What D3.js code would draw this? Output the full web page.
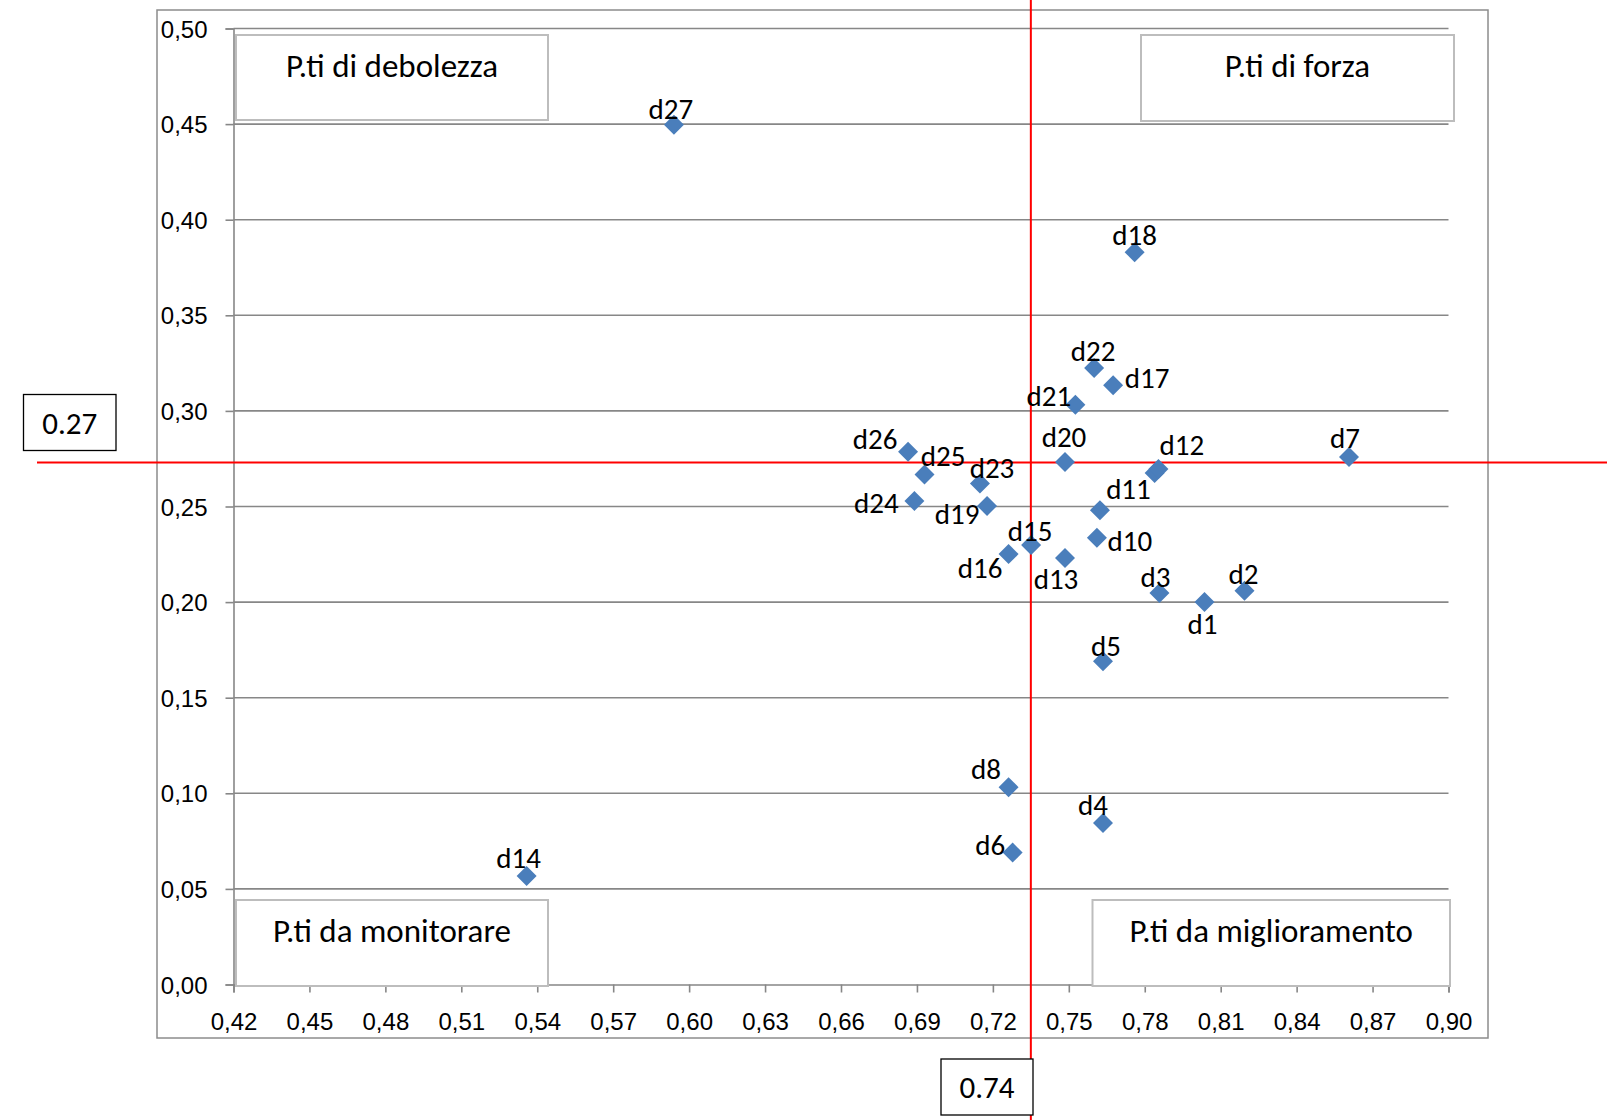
<!DOCTYPE html>
<html>
<head>
<meta charset="utf-8">
<script src="https://cdn.jsdelivr.net/npm/d3@7"></script>
<style>
  body { margin: 0; background: #fff; }
  svg { display: block; font-family: Calibri, Carlito, Lato, sans-serif; }
</style>
</head>
<body>
<svg id="chart" width="1607" height="1120"></svg>
<script>
// Data
const names = ["d1","d2","d3","d4","d5","d6","d7","d8","d9","d10","d11","d12","d13","d14",
               "d15","d16","d17","d18","d19","d20","d21","d22","d23","d24","d25","d26","d27"];
const xValues = [0.8036, 0.8194, 0.7858, 0.7635, 0.7635, 0.7278, 0.8607, 0.7262, 0.7839, 0.7611,
                 0.7623, 0.7854, 0.7485, 0.5358, 0.7351, 0.7262, 0.7675, 0.7760, 0.7177, 0.7485,
                 0.7526, 0.7600, 0.7149, 0.6890, 0.6930, 0.6865, 0.5940];
const yValues = [0.2000, 0.2059, 0.2048, 0.0845, 0.1690, 0.0690, 0.2759, 0.1032, 0.2675, 0.2337,
                 0.2481, 0.2696, 0.2230, 0.0567, 0.2299, 0.2251, 0.3134, 0.3830, 0.2503, 0.2733,
                 0.3032, 0.3225, 0.2620, 0.2529, 0.2668, 0.2786, 0.4497];
const xTicks = [0.42,0.45,0.48,0.51,0.54,0.57,0.60,0.63,0.66,0.69,0.72,0.75,0.78,0.81,0.84,0.87,0.90];
const yTicks = [0,0.05,0.10,0.15,0.20,0.25,0.30,0.35,0.40,0.45,0.50];
const quadrantLabels = ["P.ti di debolezza", "P.ti di forza", "P.ti da monitorare", "P.ti da miglioramento"];
const refX = 0.735, refY = 0.273;
const refXLabel = "0.74", refYLabel = "0.27";

// label placement relative to its marker (px); d9 label is hidden under d12
const labelOffset = {
  d1: [-2, 21.5], d2: [-1, -17.5], d3: [-4, -16.5], d4: [-10, -18.5], d5: [3, -16.5],
  d6: [-22.5, -8], d7: [-4, -19.5], d8: [-22.5, -18.5], d10: [33, 3], d11: [28.5, -21.5],
  d12: [23.5, -24.5], d13: [-9, 20.5], d14: [-8, -18.5], d15: [-1, -14.5], d16: [-28.5, 13.5],
  d17: [34, -8], d18: [0, -17.5], d19: [-30, 7], d20: [-1, -25.5], d21: [-26.5, -10],
  d22: [-1, -17.5], d23: [12, -16.5], d24: [-38, 1], d25: [18.5, -19.5], d26: [-33, -13.5],
  d27: [-3, -16.5]
};

const points = names.map((n, i) => ({name: n, x: xValues[i], y: yValues[i]}));

const svg = d3.select("#chart");
const W = 1607, H = 1120;
const plot = {left: 233.5, right: 1448.5, top: 28.5, bottom: 984.5};

const x = d3.scaleLinear().domain([0.42, 0.90]).range([plot.left, plot.right]);
const y = d3.scaleLinear().domain([0, 0.50]).range([plot.bottom, plot.top]);

const it = d3.formatLocale({decimal: ",", thousands: ".", grouping: [3], currency: ["", "€"]});
const fmt = it.format(".2f");

// chart frame
svg.append("rect")
    .attr("x", 157).attr("y", 10)
    .attr("width", 1331).attr("height", 1028)
    .attr("fill", "#fff")
    .attr("stroke", "#8c8c8c").attr("stroke-width", 1.5);

// gridlines
svg.append("g")
    .selectAll("line")
    .data(yTicks.filter(d => d > 0))
  .enter().append("line")
    .attr("x1", plot.left).attr("x2", plot.right)
    .attr("y1", d => y(d)).attr("y2", d => y(d))
    .attr("stroke", "#878787").attr("stroke-width", 1.6);

// y axis
const yAxis = svg.append("g")
    .attr("transform", `translate(${plot.left},0)`)
    .call(d3.axisLeft(y).tickValues(yTicks).tickFormat(fmt).tickSize(8).tickPadding(18));
yAxis.select(".domain").attr("stroke", "#878787").attr("stroke-width", 1.6);
yAxis.selectAll(".tick line").attr("stroke", "#878787").attr("stroke-width", 1.6);
yAxis.selectAll("text")
    .attr("fill", "#000")
    .style("font-size", "24px")
    .attr("dy", "0.36em");

// x axis
const xAxis = svg.append("g")
    .attr("transform", `translate(0,${plot.bottom})`)
    .call(d3.axisBottom(x).tickValues(xTicks).tickFormat(fmt).tickSize(8).tickPadding(8));
xAxis.select(".domain").attr("stroke", "#878787").attr("stroke-width", 1.6);
xAxis.selectAll(".tick line").attr("stroke", "#878787").attr("stroke-width", 1.6);
xAxis.selectAll("text")
    .attr("fill", "#000")
    .style("font-size", "24px")
    .attr("y", 45).attr("dy", 0);

// quadrant text boxes
const boxes = [
  {x: 236, y: 35, w: 312, h: 85},
  {x: 1141, y: 35, w: 313, h: 86},
  {x: 236, y: 900, w: 312, h: 86},
  {x: 1092.5, y: 900, w: 357.5, h: 86}
];
const qb = svg.append("g").selectAll("g")
    .data(quadrantLabels)
  .enter().append("g");
qb.append("rect")
    .attr("x", (d, i) => boxes[i].x).attr("y", (d, i) => boxes[i].y)
    .attr("width", (d, i) => boxes[i].w).attr("height", (d, i) => boxes[i].h)
    .attr("fill", "#fff")
    .attr("stroke", "#bdbdbd").attr("stroke-width", 2);
qb.append("text")
    .attr("x", (d, i) => boxes[i].x + boxes[i].w / 2)
    .attr("y", (d, i) => boxes[i].y + 42)
    .attr("text-anchor", "middle")
    .style("font-size", "33px")
    .attr("fill", "#000")
    .text(d => d);

// reference lines
svg.append("line")
    .attr("x1", x(refX)).attr("x2", x(refX))
    .attr("y1", 0).attr("y2", H)
    .attr("stroke", "#ff0000").attr("stroke-width", 2);
svg.append("line")
    .attr("x1", 37).attr("x2", W)
    .attr("y1", y(refY)).attr("y2", y(refY))
    .attr("stroke", "#ff0000").attr("stroke-width", 2);

// points
const diamond = d3.symbol().type(d3.symbolSquare).size(200);
svg.append("g")
    .selectAll("path")
    .data(points)
  .enter().append("path")
    .attr("d", diamond)
    .attr("transform", d => `translate(${x(d.x)},${y(d.y)}) rotate(45)`)
    .attr("fill", "#4a7ebb");

// point labels
svg.append("g")
    .selectAll("text")
    .data(points.filter(d => labelOffset[d.name]))
  .enter().append("text")
    .attr("x", d => x(d.x) + labelOffset[d.name][0])
    .attr("y", d => y(d.y) + labelOffset[d.name][1])
    .attr("dy", "0.37em")
    .attr("text-anchor", "middle")
    .style("font-size", "29px")
    .attr("fill", "#000")
    .text(d => d.name);

// reference value boxes
const refBoxes = [
  {label: refYLabel, x: 23.5, y: 394.5, w: 92.5, h: 56},
  {label: refXLabel, x: 941, y: 1059, w: 92, h: 56}
];
const rb = svg.append("g").selectAll("g").data(refBoxes).enter().append("g");
rb.append("rect")
    .attr("x", d => d.x).attr("y", d => d.y)
    .attr("width", d => d.w).attr("height", d => d.h)
    .attr("fill", "#fff")
    .attr("stroke", "#000").attr("stroke-width", 1.3);
rb.append("text")
    .attr("x", d => d.x + d.w / 2)
    .attr("y", d => d.y + 39)
    .attr("text-anchor", "middle")
    .style("font-size", "31px")
    .attr("fill", "#000")
    .text(d => d.label);
</script>
</body>
</html>
